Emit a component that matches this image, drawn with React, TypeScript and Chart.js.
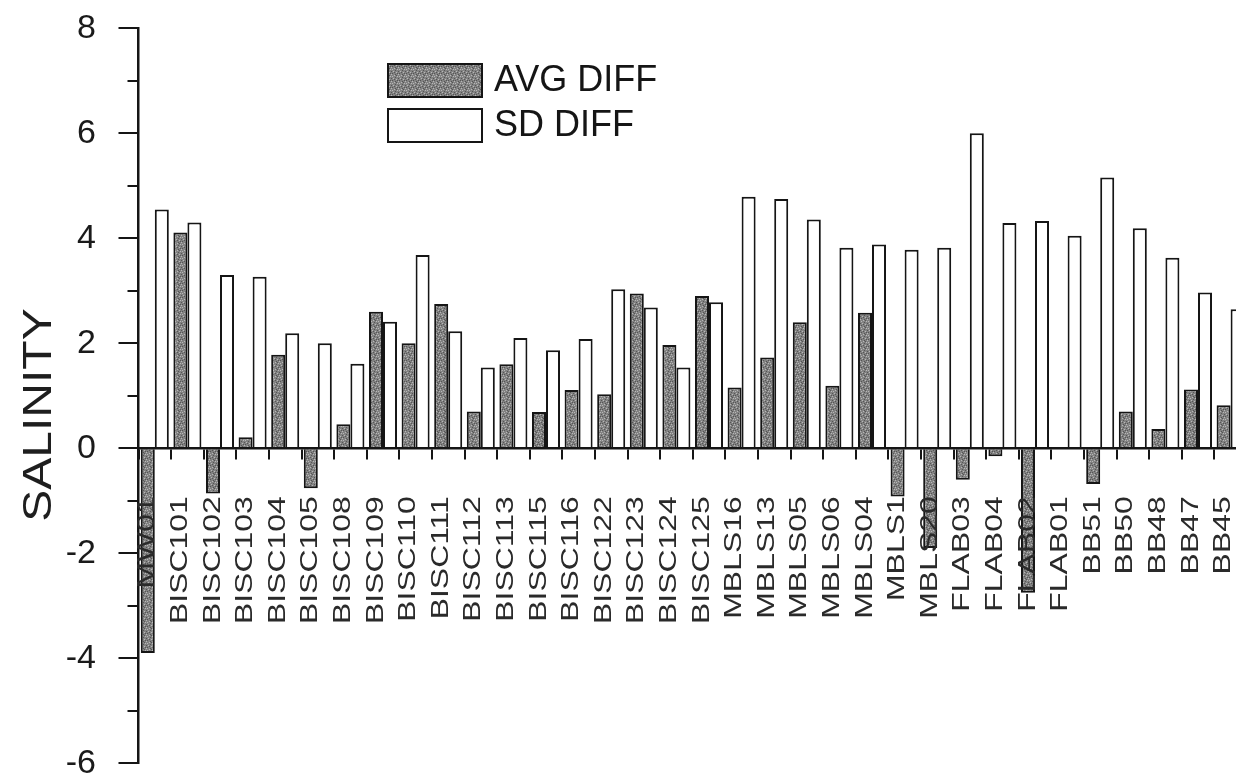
import React, { useEffect, useRef } from 'react';
import { Chart, registerables } from 'chart.js';

Chart.register(...registerables);

const categories = [
  'MW01', 'BISC101', 'BISC102', 'BISC103', 'BISC104', 'BISC105', 'BISC108', 'BISC109',
  'BISC110', 'BISC111', 'BISC112', 'BISC113', 'BISC115', 'BISC116', 'BISC122', 'BISC123',
  'BISC124', 'BISC125', 'MBLS16', 'MBLS13', 'MBLS05', 'MBLS06', 'MBLS04', 'MBLS1',
  'MBLS20', 'FLAB03', 'FLAB04', 'FLAB02', 'FLAB01', 'BB51', 'BB50', 'BB48', 'BB47', 'BB45',
];

const avgDiff = [
  -3.9, 4.11, -0.86, 0.21, 1.78, -0.76, 0.46, 2.6,
  2.0, 2.75, 0.7, 1.6, 0.69, 1.11, 1.03, 2.95,
  1.97, 2.9, 1.16, 1.73, 2.4, 1.19, 2.58, -0.92,
  -1.9, -0.6, -0.15, -2.75, 0.02, -0.68, 0.7, 0.37, 1.12, 0.82,
];

const sdDiff = [
  4.55, 4.3, 3.3, 3.27, 2.19, 2.0, 1.61, 2.41,
  3.68, 2.23, 1.54, 2.1, 1.87, 2.08, 3.03, 2.68,
  1.54, 2.78, 4.79, 4.75, 4.36, 3.82, 3.88, 3.78,
  3.82, 6.0, 4.29, 4.33, 4.05, 5.16, 4.19, 3.63, 2.97, 2.65,
];

const seriesNames = ['AVG DIFF', 'SD DIFF'];
const yTitle = 'SALINITY';
const yMin = -6;
const yMax = 8;
const yMajorStep = 2;

const FONT = '"Liberation Sans", Arial, Helvetica, sans-serif';
const INK = '#151515';

function makeStipple(): CanvasPattern | string {
  const c = document.createElement('canvas');
  c.width = 7;
  c.height = 7;
  const g = c.getContext('2d');
  if (!g) return '#888';
  g.fillStyle = '#828282';
  g.fillRect(0, 0, 7, 7);
  const light = [[1, 1], [4, 2], [2, 5], [6, 4], [5, 6], [0, 6]];
  const dark = [[0, 3], [3, 0], [5, 3], [2, 2], [6, 1], [4, 5], [3, 4]];
  g.fillStyle = '#b8b8b8';
  light.forEach(([x, y]) => g.fillRect(x, y, 1, 1));
  g.fillStyle = '#555';
  dark.forEach(([x, y]) => g.fillRect(x, y, 1, 1));
  return g.createPattern(c, 'repeat') || '#888';
}

const decorPlugin = {
  id: 'decor',
  afterDraw(chart: any) {
    const ctx: CanvasRenderingContext2D = chart.ctx;
    const xs = chart.scales.x;
    const ys = chart.scales.y;
    const zeroY = ys.getPixelForValue(0);
    const axisX = ys.right;
    ctx.save();

    // y tick marks: major (labelled) and minor
    ctx.strokeStyle = INK;
    ctx.lineWidth = 2;
    for (let v = yMin; v <= yMax; v += 1) {
      const py = Math.round(ys.getPixelForValue(v));
      const len = (v - yMin) % yMajorStep === 0 ? 20 : 11;
      ctx.beginPath();
      ctx.moveTo(axisX - len, py);
      ctx.lineTo(axisX, py);
      ctx.stroke();
    }

    // x category labels (rotated, slightly stretched)
    ctx.fillStyle = '#2a2a2a';
    ctx.font = `24px ${FONT}`;
    ctx.textAlign = 'right';
    ctx.textBaseline = 'middle';
    categories.forEach((c, i) => {
      const px = xs.getPixelForValue(i) - 7;
      ctx.save();
      ctx.translate(px, zeroY + 48);
      ctx.rotate(-Math.PI / 2);
      ctx.scale(1.33, 1);
      ctx.fillText(c, 0, 0);
      ctx.restore();
    });

    // y title
    ctx.save();
    ctx.fillStyle = '#1e1e1e';
    ctx.font = `40px ${FONT}`;
    ctx.textAlign = 'center';
    ctx.textBaseline = 'middle';
    ctx.translate(40, 415);
    ctx.rotate(-Math.PI / 2);
    ctx.scale(1.2, 1);
    ctx.fillText(yTitle, 0, 0);
    ctx.restore();

    // legend
    const boxes = [
      { x: 388, y: 64, w: 94, h: 33, ty: 81 },
      { x: 388, y: 109, w: 94, h: 33, ty: 126 },
    ];
    chart.data.datasets.forEach((ds: any, i: number) => {
      const b = boxes[i];
      ctx.fillStyle = ds.backgroundColor;
      ctx.fillRect(b.x, b.y, b.w, b.h);
      ctx.strokeStyle = INK;
      ctx.lineWidth = 2;
      ctx.strokeRect(b.x, b.y, b.w, b.h);
      ctx.fillStyle = INK;
      ctx.font = `36px ${FONT}`;
      ctx.textAlign = 'left';
      ctx.textBaseline = 'middle';
      ctx.fillText(ds.label, 494, b.ty);
    });

    ctx.restore();
  },
};

export default function App() {
  const ref = useRef<HTMLCanvasElement | null>(null);

  useEffect(() => {
    const canvas = ref.current;
    if (!canvas) return;
    const stipple = makeStipple();
    const chart = new Chart(canvas, {
      type: 'bar',
      data: {
        labels: categories,
        datasets: [
          {
            label: seriesNames[0],
            data: avgDiff,
            backgroundColor: stipple as any,
            borderColor: INK,
            borderWidth: 2,
          },
          {
            label: seriesNames[1],
            data: sdDiff,
            backgroundColor: '#ffffff',
            borderColor: INK,
            borderWidth: 2,
          },
        ],
      },
      options: {
        responsive: false,
        animation: false,
        devicePixelRatio: 1,
        layout: { padding: { top: 28.3, right: 13.1, bottom: 26.7, left: 0 } },
        datasets: { bar: { categoryPercentage: 0.86, barPercentage: 1 } },
        plugins: {
          legend: { display: false },
          tooltip: { enabled: false },
          title: { display: false },
        },
        scales: {
          x: {
            type: 'category',
            position: { y: 0 } as any,
            offset: true,
            grid: {
              offset: true,
              drawOnChartArea: false,
              drawTicks: true,
              tickLength: 10,
              color: INK,
              lineWidth: 2,
            },
            border: { display: true, color: INK, width: 2.5, z: 1 },
            ticks: { display: false },
          },
          y: {
            type: 'linear',
            min: yMin,
            max: yMax,
            ticks: {
              stepSize: yMajorStep,
              padding: 0,
              color: '#1a1a1a',
              font: { family: FONT, size: 34 },
              callback: (v: any) => String(v),
            },
            grid: {
              drawOnChartArea: false,
              drawTicks: true,
              tickLength: 42.5,
              tickColor: 'rgba(0,0,0,0)',
              lineWidth: 2,
            },
            border: { display: true, color: INK, width: 2.5 },
            afterFit: (s: any) => {
              s.width = 138.5;
            },
          },
        },
      },
      plugins: [decorPlugin],
    });
    return () => chart.destroy();
  }, []);

  return (
    <div
      style={{
        position: 'fixed',
        left: 0,
        top: 0,
        width: 1236,
        height: 778,
        overflow: 'hidden',
        background: '#fff',
      }}
    >
      <canvas ref={ref} width={1260} height={790} style={{ display: 'block' }} />
    </div>
  );
}
